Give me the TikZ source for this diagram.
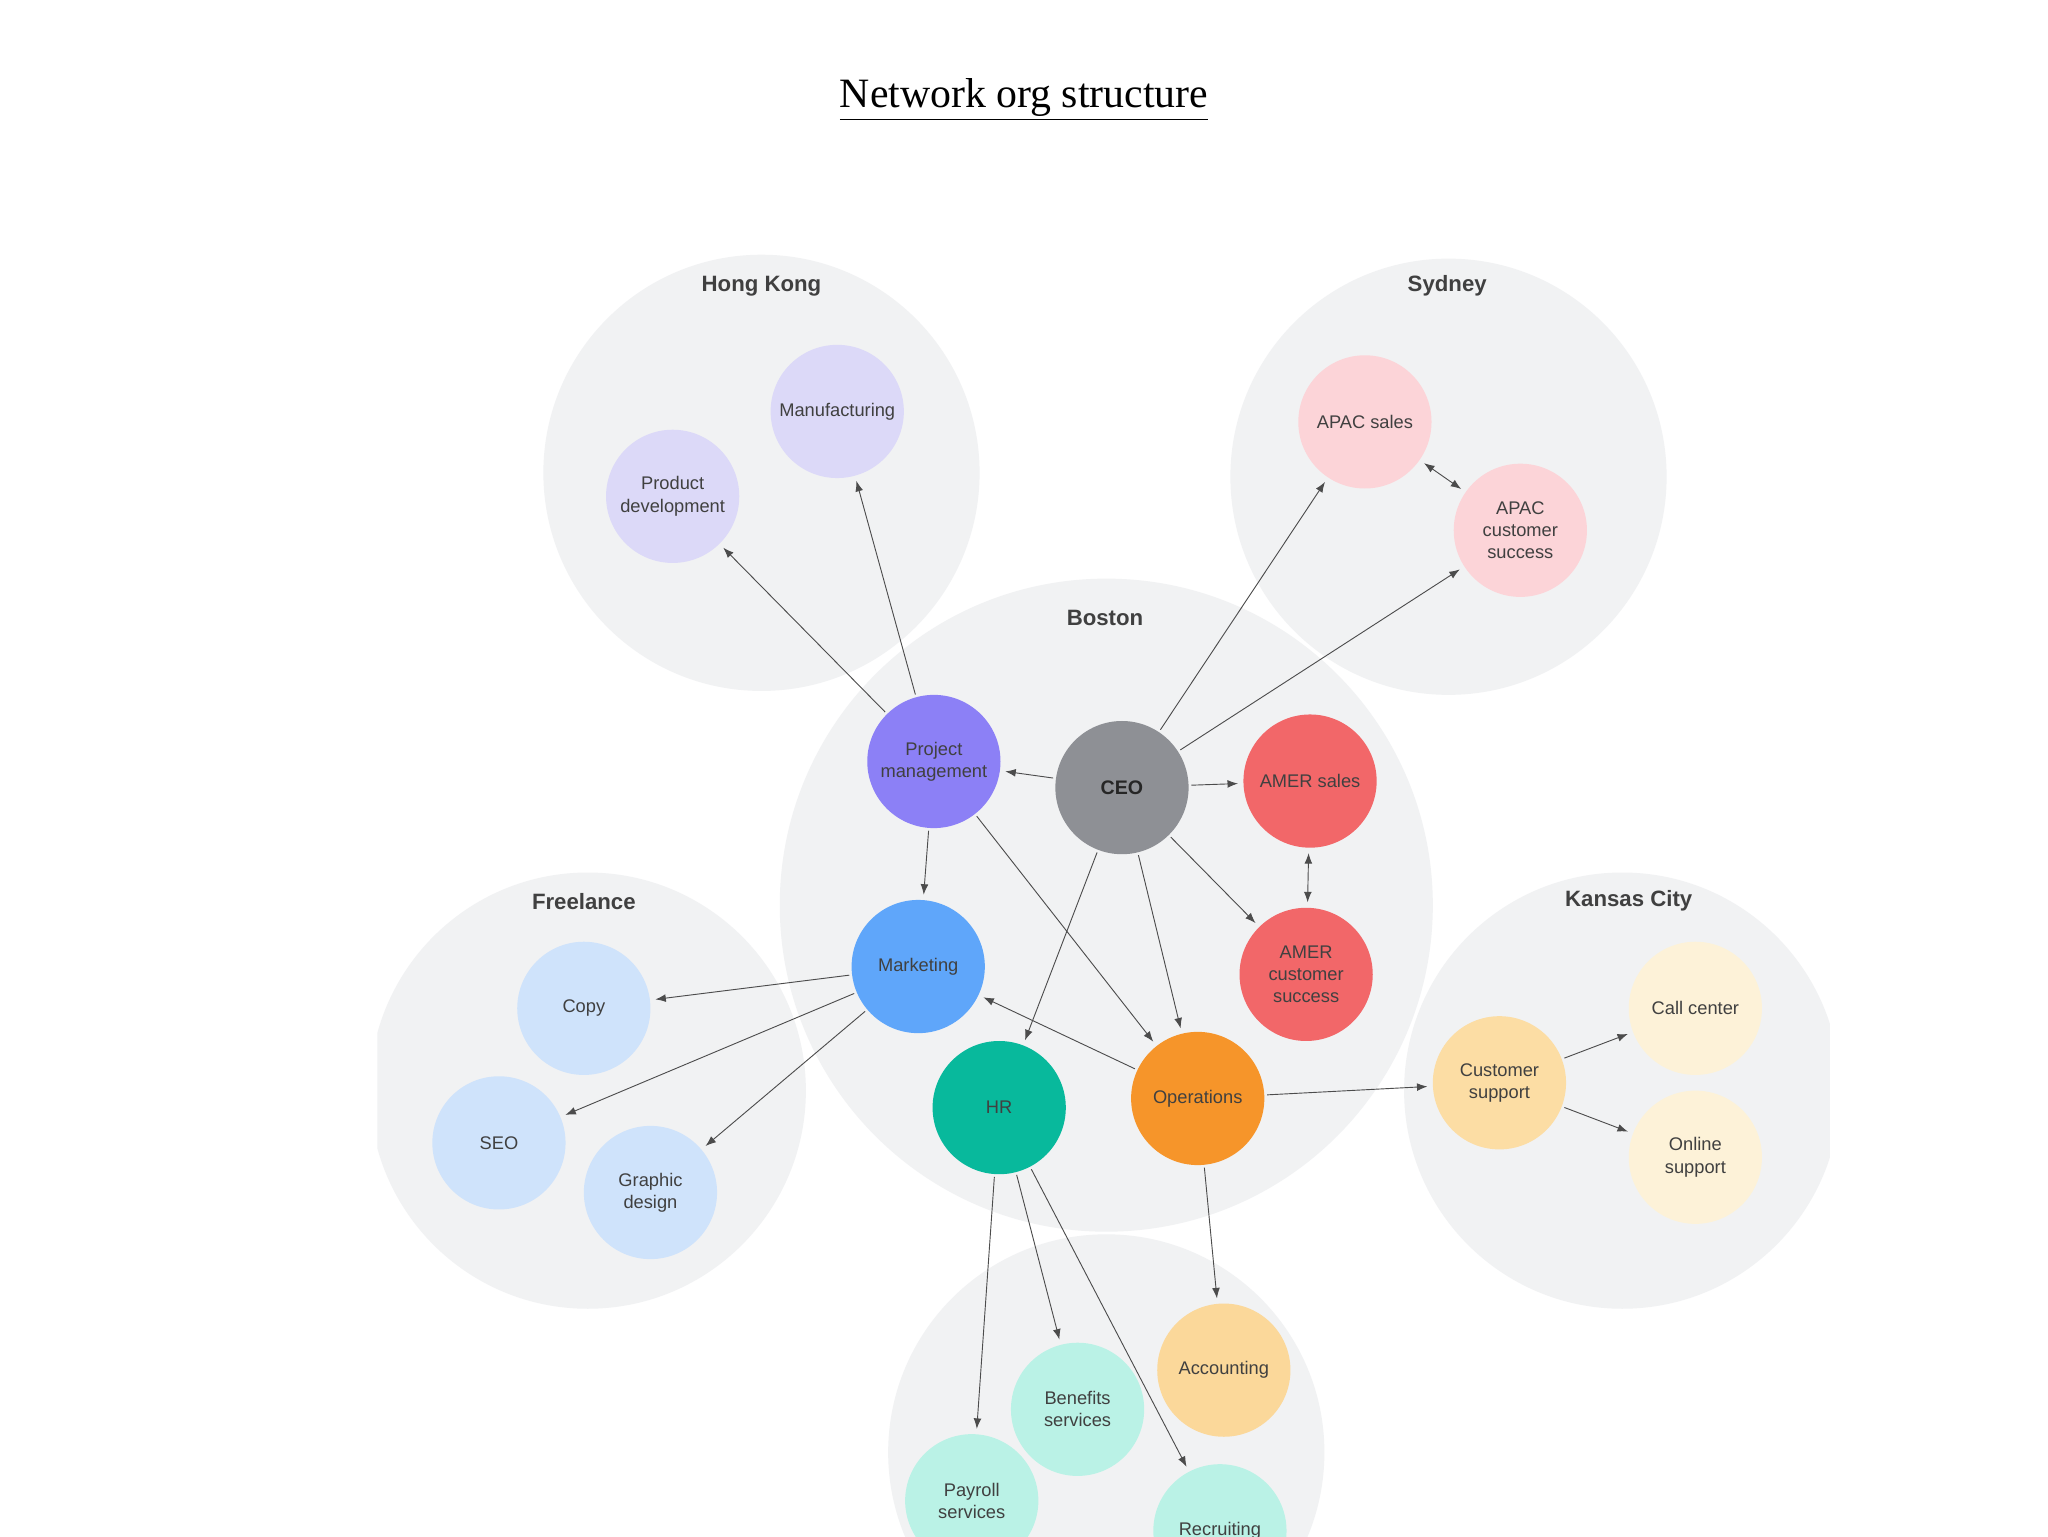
\documentclass[tikz,border=0pt]{standalone}
\usepackage{fontspec}
\setmainfont{Liberation Sans}
\newfontfamily\titlefont{Liberation Serif}
\usetikzlibrary{arrows.meta}
\definecolor{grp}{HTML}{F1F2F3}
\definecolor{hkl}{HTML}{DCD9F8}
\definecolor{pm}{HTML}{8C80F6}
\definecolor{ceo}{HTML}{8E9095}
\definecolor{amer}{HTML}{F26769}
\definecolor{apac}{HTML}{FCD4D8}
\definecolor{mkt}{HTML}{5FA6FA}
\definecolor{frl}{HTML}{CFE3FB}
\definecolor{hr}{HTML}{08B99C}
\definecolor{hrl}{HTML}{BAF2E6}
\definecolor{ops}{HTML}{F6952A}
\definecolor{acc}{HTML}{FBD89A}
\definecolor{cs}{HTML}{FCDDA4}
\definecolor{kcl}{HTML}{FDF2D8}
\tikzset{x=1pt,y=-1pt,
 grpc/.style={circle,fill=grp,inner sep=0pt},
 nd/.style={circle,minimum size=102pt,inner sep=0pt,align=center,font=\fontsize{14}{17}\selectfont,text=black!75},
 glab/.style={font=\bfseries\fontsize{17}{20}\selectfont,text=black!75},
 ar/.style={-{Latex[length=8pt,width=6pt]},draw=black!70,line width=0.7pt,shorten >=4pt,shorten <=2pt},
 dar/.style={{Latex[length=8pt,width=6pt]}-{Latex[length=8pt,width=6pt]},draw=black!70,line width=0.7pt,shorten >=4pt,shorten <=4pt}}
\begin{document}
\begin{tikzpicture}
\useasboundingbox (0,0) rectangle (1568,1176);
\fill[white] (0,0) rectangle (1568,1176);
\node[font=\titlefont\fontsize{32}{36}\selectfont] (title) at (784,76) {\underline{Network org structure}};
\begin{scope}
\clip (289,0) rectangle (1401,1176);
\node[grpc,minimum size=334pt] (ghk) at (583,362) {};
\node[grpc,minimum size=334pt] (gsy) at (1109,365) {};
\node[grpc,minimum size=334pt] (gfr) at (450,835) {};
\node[grpc,minimum size=334pt] (gkc) at (1242,835) {};
\node[grpc,minimum size=334pt] (gbt) at (847,1112) {};
\node[grpc,minimum size=500pt] (gbo) at (847,693) {};
\node[glab] (lhk) at (583,219) {Hong Kong};
\node[glab] (lsy) at (1108,219) {Sydney};
\node[glab] (lbo) at (846,473) {Boston};
\node[glab] (lfr) at (447,690) {Freelance};
\node[glab] (lkc) at (1247,690) {Kansas City};

\node[nd,fill=hkl] (pd) at (515,380) {Product\\development};
\node[nd,fill=hkl] (mf) at (641,315) {Manufacturing};
\node[nd,fill=apac] (as) at (1045,323) {APAC sales};
\node[nd,fill=apac] (ac) at (1164,406) {APAC\\customer\\success};
\node[nd,fill=pm] (pm) at (715,583) {Project\\management};
\node[nd,fill=ceo,font=\bfseries\fontsize{15}{17}\selectfont,text=black!85] (ceo) at (859,603) {CEO};
\node[nd,fill=amer] (ms) at (1003,598) {AMER sales};
\node[nd,fill=amer] (mc) at (1000,746) {AMER\\customer\\success};
\node[nd,fill=mkt] (mk) at (703,740) {Marketing};
\node[nd,fill=hr] (hr) at (765,848) {HR};
\node[nd,fill=ops] (op) at (917,841) {Operations};
\node[nd,fill=frl] (cp) at (447,772) {Copy};
\node[nd,fill=frl] (seo) at (382,875) {SEO};
\node[nd,fill=frl] (gd) at (498,913) {Graphic\\design};
\node[nd,fill=cs] (cu) at (1148,829) {Customer\\support};
\node[nd,fill=kcl] (cc) at (1298,772) {Call center};
\node[nd,fill=kcl] (os) at (1298,886) {Online\\support};
\node[nd,fill=acc] (acg) at (937,1049) {Accounting};
\node[nd,fill=hrl] (bs) at (825,1079) {Benefits\\services};
\node[nd,fill=hrl] (ps) at (744,1149) {Payroll\\services};
\node[nd,fill=hrl] (rc) at (934,1172) {Recruiting};

\draw[ar] (pm) -- (pd);
\draw[ar] (pm) -- (mf);
\draw[ar] (ceo) -- (as);
\draw[ar] (ceo) -- (ac);
\draw[dar] (as) -- (ac);
\draw[ar] (ceo) -- (pm);
\draw[ar] (ceo) -- (ms);
\draw[ar] (ceo) -- (mc);
\draw[dar] (ms) -- (mc);
\draw[ar] (ceo) -- (hr);
\draw[ar] (ceo) -- (op);
\draw[ar] (pm) -- (mk);
\draw[ar] (pm) -- (op);
\draw[ar] (op) -- (mk);
\draw[ar] (mk) -- (cp);
\draw[ar] (mk) -- (seo);
\draw[ar] (mk) -- (gd);
\draw[ar] (op) -- (cu);
\draw[ar] (cu) -- (cc);
\draw[ar] (cu) -- (os);
\draw[ar] (op) -- (acg);
\draw[ar] (hr) -- (ps);
\draw[ar] (hr) -- (bs);
\draw[ar] (hr) -- (rc);
\end{scope}
\end{tikzpicture}
\end{document}
